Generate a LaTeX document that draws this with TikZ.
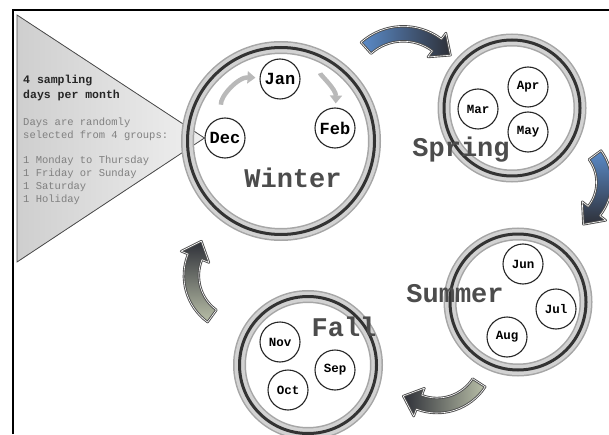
\documentclass[tikz,border=0pt]{standalone}
\usepackage{fontspec}
\setmonofont{Liberation Mono}
\usetikzlibrary{positioning,calc,arrows.meta,backgrounds}

\definecolor{arrblue}{HTML}{5B8BC9}
\definecolor{arrdark}{HTML}{2E3038}
\definecolor{arrgreen}{HTML}{B9BFA8}

\tikzset{
  seasonring/.style = {circle, draw=black!80, line width=3pt,
                       preaction={draw=gray!70, line width=13pt},
                       preaction={draw=gray!35, line width=10pt}},
  month/.style      = {circle, draw=black!85, line width=1.1pt, fill=white,
                       minimum size=40pt, inner sep=0pt,
                       font=\ttfamily\bfseries\fontsize{12.5}{12.5}\selectfont},
  wintermonth/.style = {month, font=\ttfamily\bfseries\fontsize{17}{17}\selectfont},
  season/.style     = {text=black!70, inner sep=0pt,
                       font=\ttfamily\bfseries\fontsize{27}{27}\selectfont},
  monthstep/.style  = {draw=gray!55, line width=4.5pt,
                       -{Triangle[length=8pt,width=12pt]}},
  cyclearrow/.style = {draw=black!70, line width=.9pt, double=white,
                       double distance=.6pt, line join=round},
  infotri/.style    = {draw=black!70, line width=.8pt,
                       left color=gray!38, right color=gray!12},
  infohead/.style   = {anchor=north west, inner sep=0pt, align=left, text=black!85,
                       font=\ttfamily\bfseries\fontsize{11.5}{15}\selectfont},
  infotext/.style   = {anchor=north west, inner sep=0pt, align=left, text=black!50,
                       font=\ttfamily\fontsize{10.5}{12.8}\selectfont}
}

% curved block arrow: options, centre, radius, tail angle, head angle
\newcommand{\cyclearrow}[5]{%
  \pgfmathsetmacro{\arrRo}{#3+7.5}\pgfmathsetmacro{\arrRi}{#3-7.5}%
  \pgfmathsetmacro{\arrHo}{#3+15}\pgfmathsetmacro{\arrHi}{#3-15}%
  \pgfmathsetmacro{\arrTip}{#5-90}%
  \begin{scope}[shift={#2}]
    \draw[cyclearrow,#1] (#4:\arrRo) arc[start angle=#4, end angle=#5, radius=\arrRo]
      -- (#5:\arrHo) -- ($(#5:#3)+(\arrTip:17)$) -- (#5:\arrHi) -- (#5:\arrRi)
      arc[start angle=#5, end angle=#4, radius=\arrRi] -- cycle;
  \end{scope}}

\begin{document}
\begin{tikzpicture}[x=1pt,y=1pt]
\useasboundingbox (0,0) rectangle (609,434);
\draw[line width=2pt] (13,0) -- (13,424) -- (609,424);

% seasons
\node[seasonring, minimum size=187pt] (winter) at (281,293) {};
\node[seasonring, minimum size=136pt] (spring) at (512,326) {};
\node[seasonring, minimum size=136pt] (summer) at (518,132) {};
\node[seasonring, minimum size=137pt] (fall)   at (308,69)  {};

% months
\node[wintermonth] (dec) at (225,296) {Dec};
\node[wintermonth] (jan) at (280,355) {Jan};
\node[wintermonth] (feb) at (335,306) {Feb};
\node[month] (mar) at (478,325) {Mar};
\node[month] (apr) at (528,347) {Apr};
\node[month] (may) at (528,302) {May};
\node[month] (jun) at (523,170) {Jun};
\node[month] (jul) at (556,125) {Jul};
\node[month] (aug) at (507,97)  {Aug};
\node[month] (nov) at (280,92)  {Nov};
\node[month] (sep) at (335,64)  {Sep};
\node[month] (oct) at (288,44)  {Oct};

\draw[monthstep, shorten <=13pt, shorten >=4pt] (dec) to[bend left=50] (jan);
\draw[monthstep, shorten <=20pt, shorten >=4pt] (jan) to[bend left=50] (feb);

% sampling note
\begin{scope}[on background layer]
  \filldraw[infotri] (17,419) -- (dec.west) -- (17,172) -- cycle;
\end{scope}
\node[infohead] (howmany) at (23,359) {4 sampling\\days per month};
\node[infotext] (picked)  at (23,316) {Days are randomly\\selected from 4 groups:};
\node[infotext] (groups)  at (23,278) {1 Monday to Thursday\\1 Friday or Sunday\\1 Saturday\\1 Holiday};

% cycle
\cyclearrow{left color=arrblue, right color=arrdark}{(403.3,344.2)}{56}{131.7}{53.1}
\cyclearrow{top color=arrblue, bottom color=arrdark}{(558,251.6)}{46}{36.5}{-38.5}
\cyclearrow{right color=arrgreen, left color=arrdark}{(437,78.5)}{50}{-33}{-111}
\cyclearrow{bottom color=arrgreen, top color=arrdark}{(241.4,158.4)}{50}{234}{158}

\node[season] (winterlbl) at (293,256) {Winter};
\node[season] (springlbl) at (461,284) {Spring};
\node[season] (summerlbl) at (455,140) {Summer};
\node[season] (falllbl)   at (344,107) {Fall};
\end{tikzpicture}
\end{document}
